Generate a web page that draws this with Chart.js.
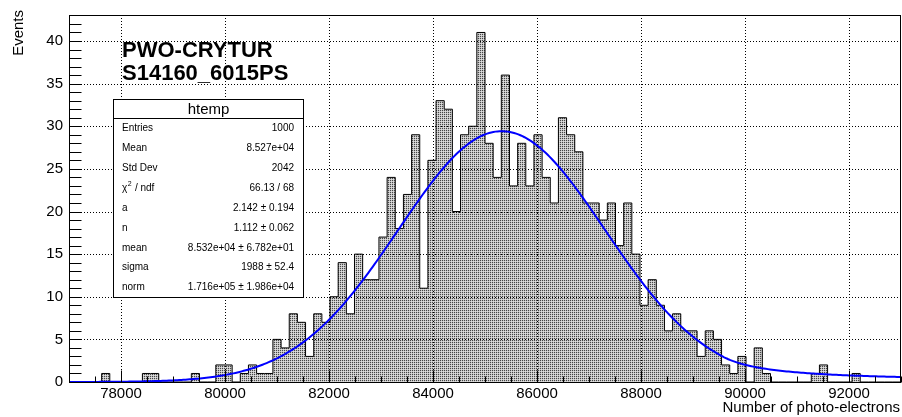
<!DOCTYPE html>
<html>
<head>
<meta charset="utf-8">
<title>Number of photo-electrons</title>
<script src="https://cdn.jsdelivr.net/npm/chart.js@4.4.1/dist/chart.umd.min.js"></script>
<style>
  html, body { margin: 0; padding: 0; background: #ffffff; overflow: hidden; }
  canvas { display: block; }
</style>
</head>
<body>
<canvas id="c" width="902" height="417"></canvas>
<script>
// ---- htemp histogram: equal-width bins between binLow and binHigh ----
const binLow = 77000;
const binHigh = 93000;
const binCounts = [
  0, 0, 0, 0, 1, 0, 0, 0, 0, 1,
  1, 0, 0, 0, 0, 1, 0, 0, 2, 2,
  0, 1, 2, 1, 1, 5, 4, 8, 7, 3,
  8, 7, 10, 14, 8, 15, 12, 12, 17, 24,
  18, 22, 29, 11, 26, 33, 32, 20, 29, 30,
  41, 28, 24, 36, 23, 28, 23, 29, 24, 21,
  31, 29, 27, 21, 21, 19, 21, 16, 21, 15,
  9, 12, 9, 6, 8, 6, 6, 3, 6, 5,
  2, 1, 3, 0, 4, 1, 0, 0, 0, 0,
  0, 1, 2, 0, 0, 0, 1, 0, 0, 0,
  0, 0
];

// ---- axes ----
const xTickValues = [78000, 80000, 82000, 84000, 86000, 88000, 90000, 92000];
const xMinorStep = 500;
const yTickValues = [0, 5, 10, 15, 20, 25, 30, 35, 40];
const yMinorStep = 1;
const yMax = 43.05;
const xTitle = 'Number of photo-electrons';
const yTitle = 'Events';

// ---- Crystal Ball fit result ----
const fitA = 2.142;
const fitN = 1.112;
const fitMean = 85320;
const fitSigma = 1988;
const fitNorm = 1.716e5;
const curveStep = 40;

// ---- text ----
const titleLines = ['PWO-CRYTUR', 'S14160_6015PS'];
const statsTitle = 'htemp';
const statsRows = [
  ['Entries', '1000'],
  ['Mean', '8.527e+04'],
  ['Std Dev', '2042'],
  ['CHI2', '66.13 / 68'],
  ['a', '2.142 \u00b1 0.194'],
  ['n', '1.112 \u00b1 0.062'],
  ['mean', '8.532e+04 \u00b1 6.782e+01'],
  ['sigma', '1988 \u00b1 52.4'],
  ['norm', '1.716e+05 \u00b1 1.986e+04']
];

const FONT = '"Liberation Sans", Arial, Helvetica, sans-serif';

// error function (Abramowitz & Stegun 7.1.26)
function erf(x) {
  const s = x < 0 ? -1 : 1;
  x = Math.abs(x);
  const t = 1 / (1 + 0.3275911 * x);
  const y = 1 - (((((1.061405429 * t - 1.453152027) * t) + 1.421413741) * t - 0.284496736) * t + 0.254829592) * t * Math.exp(-x * x);
  return s * y;
}

// normalised Crystal Ball shape with its power-law tail on the high side
function fitValue(x) {
  const a = Math.abs(fitA);
  const t = (x - fitMean) / fitSigma;
  let g;
  if (t <= a) {
    g = Math.exp(-0.5 * t * t);
  } else {
    const A = Math.pow(fitN / a, fitN) * Math.exp(-0.5 * a * a);
    const B = fitN / a - a;
    g = A * Math.pow(B + t, -fitN);
  }
  const tailArea = (fitN / a) / (fitN - 1) * Math.exp(-0.5 * a * a);
  const coreArea = Math.sqrt(Math.PI / 2) * (1 + erf(a / Math.SQRT2));
  return fitNorm * g / (fitSigma * (tailArea + coreArea));
}

// step outline of the histogram
const nBins = binCounts.length;
const binWidth = (binHigh - binLow) / nBins;
const histPoints = [{ x: binLow, y: 0 }];
binCounts.forEach((c, i) => histPoints.push({ x: binLow + i * binWidth, y: c }));
histPoints.push({ x: binHigh, y: 0 });

const curvePoints = [];
for (let x = binLow; x <= binHigh + 1e-6; x += curveStep) {
  curvePoints.push({ x: x, y: fitValue(x) });
}

const canvas = document.getElementById('c');
const ctx = canvas.getContext('2d');

// stipple fill pattern for the histogram
const pc = document.createElement('canvas');
pc.width = 2; pc.height = 2;
const pctx = pc.getContext('2d');
const img = pctx.createImageData(2, 2);
const shades = [70, 196, 196, 222];
for (let i = 0; i < 4; i++) {
  img.data[i * 4] = shades[i];
  img.data[i * 4 + 1] = shades[i];
  img.data[i * 4 + 2] = shades[i];
  img.data[i * 4 + 3] = 255;
}
pctx.putImageData(img, 0, 0);
const stipple = ctx.createPattern(pc, 'repeat');

function drawGrid(chart) {
  const { left, right, top, bottom } = chart.chartArea;
  const xs = chart.scales.x, ys = chart.scales.y;
  const c = chart.ctx;
  c.save();
  c.strokeStyle = '#000';
  c.lineWidth = 1;
  c.setLineDash([1, 2]);
  c.beginPath();
  xTickValues.forEach(v => {
    const px = Math.round(xs.getPixelForValue(v)) + 0.5;
    c.moveTo(px, top);
    c.lineTo(px, bottom);
  });
  yTickValues.forEach(v => {
    if (v <= 0) return;
    const py = Math.round(ys.getPixelForValue(v)) + 0.5;
    c.moveTo(left, py);
    c.lineTo(right, py);
  });
  c.stroke();
  c.restore();
}

function drawFrame(chart) {
  const { left, right, top, bottom } = chart.chartArea;
  const xs = chart.scales.x, ys = chart.scales.y;
  const c = chart.ctx;
  const L = Math.round(left) + 0.5, R = Math.round(right) - 0.5;
  const T = Math.round(top) + 0.5, B = Math.round(bottom) + 0.5;
  c.save();
  c.strokeStyle = '#000';
  c.lineWidth = 1;
  c.setLineDash([]);
  c.strokeRect(L, T, R - L, B - T);
  c.beginPath();
  // x ticks
  for (let v = Math.ceil(binLow / xMinorStep) * xMinorStep; v <= binHigh; v += xMinorStep) {
    const px = Math.round(xs.getPixelForValue(v)) + 0.5;
    const len = xTickValues.includes(v) ? 12 : 6;
    c.moveTo(px, B);
    c.lineTo(px, B - len);
  }
  // y ticks
  for (let v = 0; v <= yMax; v += yMinorStep) {
    const py = Math.round(ys.getPixelForValue(v)) + 0.5;
    c.moveTo(L, py);
    c.lineTo(L + 12, py);
  }
  c.stroke();
  c.restore();
}

function drawTexts(chart) {
  const c = chart.ctx;
  c.save();
  c.fillStyle = '#000';

  // titles
  c.font = 'bold 22px ' + FONT;
  c.textAlign = 'left';
  c.textBaseline = 'alphabetic';
  c.fillText(titleLines[0], 122, 57);
  c.fillText(titleLines[1], 122, 80);

  // axis titles
  c.font = '15px ' + FONT;
  c.textAlign = 'right';
  c.fillText(xTitle, 900, 412);
  c.save();
  c.translate(19, 10);
  c.rotate(-Math.PI / 2);
  c.textAlign = 'right';
  c.textBaseline = 'middle';
  c.fillText(yTitle, 0, 0);
  c.restore();

  // statistics box
  const bx = 113.5, by = 99.5, bw = 190, bh = 198, head = 19;
  c.fillStyle = '#fff';
  c.fillRect(bx, by, bw, bh);
  c.strokeStyle = '#000';
  c.lineWidth = 1;
  c.strokeRect(bx, by, bw, bh);
  c.beginPath();
  c.moveTo(bx, by + head);
  c.lineTo(bx + bw, by + head);
  c.stroke();

  c.fillStyle = '#000';
  c.font = '15px ' + FONT;
  c.textAlign = 'center';
  c.textBaseline = 'middle';
  c.fillText(statsTitle, bx + bw / 2, by + head / 2 + 0.5);

  const rowH = (bh - head) / statsRows.length;
  statsRows.forEach((row, i) => {
    const y = by + head + rowH * (i + 0.5);
    c.font = '10px ' + FONT;
    c.textBaseline = 'middle';
    c.textAlign = 'left';
    if (row[0] === 'CHI2') {
      let x = 122;
      c.fillText('\u03c7', x, y);
      x += c.measureText('\u03c7').width + 0.5;
      c.font = '7px ' + FONT;
      c.fillText('2', x, y - 4);
      x += c.measureText('2').width + 0.5;
      c.font = '10px ' + FONT;
      c.fillText(' / ndf', x, y);
    } else {
      c.fillText(row[0], 122, y);
    }
    c.textAlign = 'right';
    c.fillText(row[1], 294, y);
  });
  c.restore();
}

const rootStyle = {
  id: 'rootStyle',
  afterDatasetDraw(chart, args) {
    if (args.index === 0) drawGrid(chart);
  },
  afterDatasetsDraw(chart) {
    drawFrame(chart);
    drawTexts(chart);
  }
};

Chart.defaults.font.family = FONT;
Chart.defaults.color = '#000';

new Chart(ctx, {
  type: 'line',
  data: {
    datasets: [
      {
        label: 'htemp',
        data: histPoints,
        stepped: true,
        borderColor: '#000000',
        borderWidth: 1,
        backgroundColor: stipple,
        fill: 'origin',
        pointRadius: 0,
        pointHitRadius: 0,
        order: 2
      },
      {
        label: 'fit',
        data: curvePoints,
        borderColor: '#0000ff',
        borderWidth: 2,
        fill: false,
        tension: 0,
        pointRadius: 0,
        pointHitRadius: 0,
        order: 1
      }
    ]
  },
  options: {
    responsive: false,
    animation: false,
    events: [],
    devicePixelRatio: 1,
    layout: { padding: { top: 8, right: 1, bottom: 0, left: 0 } },
    plugins: { legend: { display: false }, tooltip: { enabled: false }, title: { display: false } },
    scales: {
      x: {
        type: 'linear',
        min: binLow,
        max: binHigh,
        grid: { display: false, drawTicks: false },
        border: { display: false },
        ticks: {
          font: { size: 15 },
          color: '#000',
          padding: 3,
          maxRotation: 0,
          autoSkip: false,
          callback: v => String(v)
        },
        afterBuildTicks: s => { s.ticks = xTickValues.map(v => ({ value: v })); },
        afterFit: s => { s.height = 35; }
      },
      y: {
        type: 'linear',
        min: 0,
        max: yMax,
        grid: { display: false, drawTicks: false },
        border: { display: false },
        ticks: {
          font: { size: 15 },
          color: '#000',
          padding: 6,
          autoSkip: false,
          callback: v => String(v)
        },
        afterBuildTicks: s => { s.ticks = yTickValues.map(v => ({ value: v })); },
        afterFit: s => { s.width = 69; }
      }
    }
  },
  plugins: [rootStyle]
});
</script>
</body>
</html>
